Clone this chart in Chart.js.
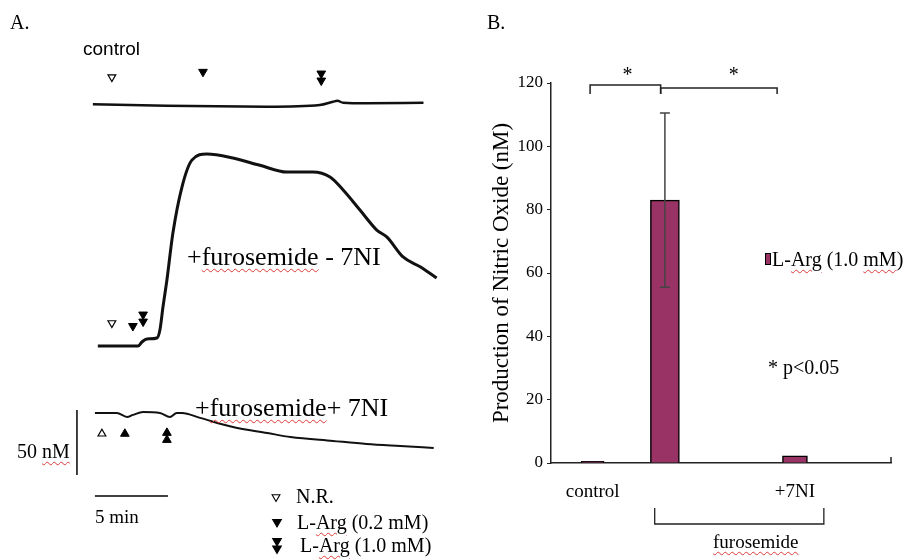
<!DOCTYPE html>
<html>
<head>
<meta charset="utf-8">
<script src="https://cdn.jsdelivr.net/npm/chart.js@4.4.1/dist/chart.umd.min.js"></script>
<style>
body { margin: 0; background: #fff; }
#wrap { position: relative; width: 909px; height: 560px; overflow: hidden; font-family: "Liberation Serif", "Times New Roman", serif; color: #000; }
canvas { position: absolute; top: 0; }
.t { position: absolute; white-space: nowrap; line-height: 1; transform: translateY(-50%); }
.sq { text-decoration: underline wavy #e03a3a; text-decoration-thickness: 1px; text-underline-offset: 3px; }
</style>
</head>
<body>
<div id="wrap">
  <canvas id="panelA" width="460" height="560" style="left:0"></canvas>
  <canvas id="panelB" width="449" height="560" style="left:460px"></canvas>

  <div class="t" style="left:10px;top:22px;font-size:20px">A.</div>
  <div class="t" style="left:83px;top:48px;font-size:19px;font-family:'Liberation Sans',Arial,sans-serif">control</div>
  <div class="t" style="left:187px;top:257px;font-size:26px">+<span class="sq">furosemide</span> - 7NI</div>
  <div class="t" style="left:195px;top:408px;font-size:26px">+<span class="sq">furosemide</span>+ 7NI</div>
  <div class="t" style="left:17px;top:451px;font-size:20px">50 <span class="sq">nM</span></div>
  <div class="t" style="left:95px;top:516px;font-size:19px">5 min</div>
  <div class="t" style="left:296px;top:496px;font-size:20px">N.R.</div>
  <div class="t" style="left:297px;top:522px;font-size:20px">L-<span class="sq">Arg</span> (0.2 mM)</div>
  <div class="t" style="left:300px;top:545px;font-size:20px">L-<span class="sq">Arg</span> (1.0 mM)</div>

  <div class="t" style="left:487px;top:22px;font-size:20px">B.</div>
  <div class="t" style="left:765px;top:259px;font-size:20px"><span style="display:inline-block;width:4px;height:10px;background:#993366;border:1px solid #000;margin-right:1px;vertical-align:1px"></span>L-<span class="sq">Arg</span> (1.0 <span class="sq">mM</span>)</div>
  <div class="t" style="left:768px;top:367px;font-size:20px">* p&lt;0.05</div>
  <div class="t" style="left:713px;top:541px;font-size:19px"><span class="sq">furosemide</span></div>
</div>

<script>
// ---- Panel A: NO electrode traces, time (min) from start, NO (nM) above each trace's baseline
const ctrlTime = [-0.14, 4.9, 11.8, 15.4, 16.3, 16.6, 17.0, 18.6, 22.5];
const ctrlNO = [0, -1.1, -1.8, -0.5, 2.0, 2.8, 1.2, 0.8, 1.2];

const furoTime = [0.2, 2.95, 3.22, 3.56, 4.25, 4.45, 4.66, 4.93, 5.34, 5.96, 6.64, 7.67,
                  9.45, 11.3, 13.15, 14.9, 16.1, 17.0, 18.15, 19.3, 20.0, 21.1, 22.3, 23.4];
const furoNO = [0, 0, 3.1, 5.4, 6.2, 12.3, 30, 50.8, 86.9, 122.3, 143, 147.7,
                144.6, 139, 133.8, 133.8, 130, 120, 104.6, 89.2, 83.8, 68.5, 60.8, 52.3];

const niTime = [0, 1.5, 2.2, 2.6, 3.3, 4.45, 5.14, 5.6, 5.96, 7.2, 9.45, 11.8, 13.4, 16.3, 18.6, 20.9, 23.2];
const niNO = [0, 0, -3.1, -1.5, 0.8, 0, -3.1, 0, 0, -3.8, -10.8, -15.4, -18.5, -21.5, -23.8, -25.4, -26.9];

// additions: N.R., L-Arg 0.2 mM, L-Arg 1.0 mM (min) and marker height (nM above baseline)
const ctrlEvents = [1.16, 7.4, 15.5];
const furoEvents = [1.16, 2.6, 3.3];
const niEvents = [0.48, 2.05, 4.93];
const ctrlMarkNO = [21, 25, 21];
const furoMarkNO = [17.7, 15.4, 21.5];
const niMarkNO = [-16, -16, -18];

// where each trace sits on the shared panel (nM)
const ctrlBase = 350.5, furoBase = 164.6, niBase = 113.1;
const scaleNM = 50, scaleMin = 5;

// ---- Panel B: NO production (nM)
const groups = ['control', 'furosemide', 'furosemide + 7NI'];
const catLabels = ['control', '', '+7NI'];
const catPos = [0.49, 1.34, 2.87];
const noValues = [0.5, 83, 2.3];
const noErrors = [0, 27.5, 0];
const sigFrom = [0.46, 1.29];
const sigTo = [1.29, 2.66];
const sigLevel = [119.4, 118.4];
const sigStarX = [0.9, 2.15];
const furoFrom = 1.22, furoTo = 3.21;

function tracePts(times, vals, base) {
    return times.map((t, i) => ({ x: t, y: base + vals[i] }));
}

function markerSets(events, levels, base, up) {
    const rot = up ? 0 : 180;
    const common = { type: 'scatter', pointStyle: 'triangle', rotation: rot, borderColor: '#000', showLine: false };
    return [
        Object.assign({}, common, { data: [{ x: events[0], y: base + levels[0] }], pointRadius: 4.5, backgroundColor: '#fff', borderWidth: 1.2 }),
        Object.assign({}, common, { data: [{ x: events[1], y: base + levels[1] }], pointRadius: 5, backgroundColor: '#000', borderWidth: 1 }),
        Object.assign({}, common, { data: [
            { x: events[2], y: base + levels[2] + 2.7 },
            { x: events[2], y: base + levels[2] - 2.7 }
        ], pointRadius: 5, backgroundColor: '#000', borderWidth: 1 })
    ];
}

function tri(ctx, x, y, r, down, filled) {
    const s = down ? -1 : 1;
    ctx.beginPath();
    ctx.moveTo(x, y - s * r);
    ctx.lineTo(x + r * 0.866, y + s * r / 2);
    ctx.lineTo(x - r * 0.866, y + s * r / 2);
    ctx.closePath();
    ctx.fillStyle = filled ? '#000' : '#fff';
    ctx.fill();
    ctx.lineWidth = 1.1;
    ctx.strokeStyle = '#000';
    ctx.stroke();
}

const legendA = {
    id: 'legendA',
    afterDraw(chart) {
        const ctx = chart.ctx;
        ctx.save();
        tri(ctx, 276, 497, 4.5, true, false);
        tri(ctx, 277, 522, 5, true, true);
        tri(ctx, 277, 541, 5, true, true);
        tri(ctx, 277, 548.5, 5, true, true);
        ctx.restore();
    }
};

const lineStyle = { type: 'line', borderColor: '#111', pointRadius: 0, fill: false, cubicInterpolationMode: 'monotone' };

new Chart(document.getElementById('panelA'), {
    type: 'line',
    data: {
        datasets: [
            Object.assign({}, lineStyle, { label: 'control', data: tracePts(ctrlTime, ctrlNO, ctrlBase), borderWidth: 2.5 }),
            Object.assign({}, lineStyle, { label: '+furosemide - 7NI', data: tracePts(furoTime, furoNO, furoBase), borderWidth: 3 }),
            Object.assign({}, lineStyle, { label: '+furosemide + 7NI', data: tracePts(niTime, niNO, niBase), borderWidth: 2 }),
            ...markerSets(ctrlEvents, ctrlMarkNO, ctrlBase, false),
            ...markerSets(furoEvents, furoMarkNO, furoBase, false),
            ...markerSets(niEvents, niMarkNO, niBase, true),
            // scale bars
            { type: 'line', data: [{ x: -1.23, y: 65.4 }, { x: -1.23, y: 65.4 + scaleNM }], borderColor: '#000', borderWidth: 1.5, pointRadius: 0, tension: 0 },
            { type: 'line', data: [{ x: 0, y: 49.2 }, { x: scaleMin, y: 49.2 }], borderColor: '#000', borderWidth: 1.5, pointRadius: 0, tension: 0 }
        ]
    },
    options: {
        responsive: false,
        animation: false,
        layout: { padding: 0, autoPadding: false },
        plugins: { legend: { display: false }, tooltip: { enabled: false } },
        scales: {
            x: { type: 'linear', min: -6.5, max: 25.0, display: false },
            y: { type: 'linear', min: 0, max: 430.77, display: false }
        }
    },
    plugins: [legendA]
});

const marksB = {
    id: 'marksB',
    afterDatasetsDraw(chart) {
        const { ctx } = chart;
        const x = chart.scales.x, y = chart.scales.y;
        ctx.save();
        // error bars
        ctx.strokeStyle = '#444';
        ctx.lineWidth = 1.5;
        noValues.forEach((v, i) => {
            if (!noErrors[i]) return;
            const px = x.getPixelForValue(catPos[i]);
            const hi = y.getPixelForValue(v + noErrors[i]);
            const lo = y.getPixelForValue(v - noErrors[i]);
            ctx.beginPath();
            ctx.moveTo(px, lo); ctx.lineTo(px, hi);
            ctx.moveTo(px - 5, hi); ctx.lineTo(px + 5, hi);
            ctx.moveTo(px - 5, lo); ctx.lineTo(px + 5, lo);
            ctx.stroke();
        });
        // significance brackets
        ctx.strokeStyle = '#222';
        ctx.lineWidth = 1.5;
        sigFrom.forEach((f, i) => {
            const x0 = x.getPixelForValue(f), x1 = x.getPixelForValue(sigTo[i]);
            const yl = y.getPixelForValue(sigLevel[i]);
            const yd = y.getPixelForValue(116.5);
            ctx.beginPath();
            ctx.moveTo(x0, yd); ctx.lineTo(x0, yl); ctx.lineTo(x1, yl); ctx.lineTo(x1, yd);
            ctx.stroke();
            ctx.fillStyle = '#000';
            ctx.font = '20px "Liberation Serif", serif';
            ctx.textAlign = 'center';
            ctx.textBaseline = 'alphabetic';
            ctx.fillText('*', x.getPixelForValue(sigStarX[i]), y.getPixelForValue(120.5));
        });
        // right end tick of the x axis
        const y0 = y.getPixelForValue(0);
        ctx.beginPath();
        ctx.moveTo(x.right, y0); ctx.lineTo(x.right, y0 - 6);
        ctx.stroke();
        // furosemide group bracket
        const f0 = x.getPixelForValue(furoFrom), f1 = x.getPixelForValue(furoTo);
        ctx.lineWidth = 1.3;
        ctx.beginPath();
        ctx.moveTo(f0, y0 + 45); ctx.lineTo(f0, y0 + 61); ctx.lineTo(f1, y0 + 61); ctx.lineTo(f1, y0 + 45);
        ctx.stroke();
        ctx.restore();
    }
};

const barThick = [23, 29, 25];
new Chart(document.getElementById('panelB'), {
    type: 'bar',
    data: {
        datasets: noValues.map((v, i) => ({
            label: groups[i],
            data: [{ x: catPos[i], y: v }],
            backgroundColor: '#993366',
            borderColor: '#000',
            borderWidth: 1.5,
            barThickness: barThick[i],
            grouped: false
        }))
    },
    options: {
        responsive: false,
        animation: false,
        layout: { padding: { top: 83, right: 18, left: 0, bottom: 0 }, autoPadding: false },
        plugins: { legend: { display: false }, tooltip: { enabled: false } },
        scales: {
            x: {
                type: 'linear', min: 0, max: 4, offset: false,
                grid: { display: false, offset: false },
                border: { color: '#222', width: 1.5 },
                afterBuildTicks: s => { s.ticks = catPos.map(v => ({ value: v })); },
                afterFit: s => { s.height = 97; },
                ticks: {
                    autoSkip: false, maxRotation: 0, padding: 10, color: '#000',
                    font: { family: '"Liberation Serif", serif', size: 19 },
                    callback: (val, idx) => catLabels[idx]
                }
            },
            y: {
                min: 0, max: 120,
                grid: { drawOnChartArea: false, tickLength: 4, color: '#222' },
                border: { color: '#222', width: 1.5 },
                afterFit: s => { s.width = 91; },
                ticks: { stepSize: 20, padding: 4, color: '#000', font: { family: '"Liberation Serif", serif', size: 17 } },
                title: {
                    display: true, text: 'Production of Nitric Oxide (nM)', color: '#000',
                    font: { family: '"Liberation Serif", serif', size: 23 },
                    padding: { top: 28, bottom: 0 }
                }
            }
        }
    },
    plugins: [marksB]
});
</script>
</body>
</html>
